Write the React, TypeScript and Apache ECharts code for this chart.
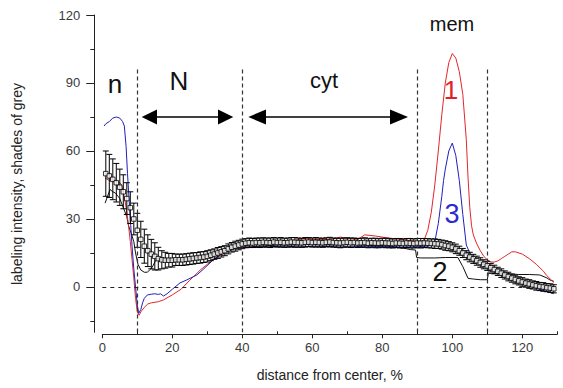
import React, { useEffect, useRef } from "react";
import * as echarts from "echarts";

// mean profile (x = 1..129 %), squares with error bars
const meanY = [
  50, 49, 47.5, 46, 44, 42, 39, 35, 30, 25, 21, 18, 16, 14.5, 13.5, 12.5, 12, 11.8, 11.8, 11.8,
  12, 12, 12, 12.2, 12.4, 12.6, 12.8, 13, 13.2, 13.5, 14, 14.5, 15, 15.5, 16, 16.8, 17.5, 18, 18.5, 19,
  19.3, 19.5, 19.4, 19.6, 19.5, 19.7, 19.6, 19.5, 19.8, 19.6, 19.7, 19.5, 19.6, 19.8, 19.7, 19.6, 19.5, 19.7, 19.8, 19.6,
  19.7, 19.6, 19.5, 19.7, 19.8, 19.6, 19.5, 19.4, 19.6, 19.7, 19.5, 19.6, 19.4, 19.5, 19.6, 19.3, 19.5, 19.4, 19.3, 19.5,
  19.4, 19.3, 19.2, 19.4, 19.3, 19.2, 19.4, 19.3, 19.2, 19.4,
  19.3, 19.4, 19.3, 19.2, 19.1, 19, 18.7, 18.3, 18, 17.5, 16.8, 16, 15, 14, 13.2, 12.4, 11.6, 10.8, 10, 9.3,
  8.5, 7.7, 6.9, 6.1, 5.3, 4.6, 3.9, 3.3, 2.7, 2.2, 1.7, 1.3, 0.9, 0.5, 0.2, 0, -0.3, -0.5, -0.8,
];
const errY = [
  10, 9.5, 9, 8.5, 8, 7.5, 7, 7, 7, 7.5, 8, 7.5, 7, 6.5, 6, 5, 4, 3.5, 3, 3,
  2.5, 2.5, 2.5, 2.5, 2.5, 2.5, 2.4, 2.5, 2.4, 2.5, 2.4, 2.3, 2.4, 2.3, 2.2, 2.2, 2.1, 2.2, 2.1, 2.1,
  2, 2.1, 2, 2, 2.1, 2, 2, 2.1, 2, 2, 2.1, 2, 2, 2, 2.1, 2, 2, 2.1, 2, 2,
  2.1, 2, 2, 2, 2.1, 2, 2, 2.1, 2, 2, 2.1, 2, 2, 2, 2.1, 2, 2, 2.1, 2, 2,
  2.1, 2, 2, 2, 2.1, 2, 2, 2.1, 2, 2,
  2.1, 2, 2, 2, 2.1, 2, 2, 2.1, 2, 2, 2.1, 2, 2, 2, 2.1, 2, 2, 2.1, 2, 2,
  1.9, 1.9, 1.8, 1.9, 1.8, 1.9, 1.8, 1.9, 1.8, 1.9, 1.8, 1.9, 1.8, 1.9, 1.8, 1.9, 1.8, 1.9, 1.8,
];

// curve 1 (red)
const redLine = [
  [0.8, 48], [2, 47], [3, 47.5], [4, 46.5], [5, 46], [5.5, 45], [6.5, 38], [7, 33], [7.5, 27], [8, 20],
  [8.5, 12], [9, 4], [9.5, -5], [10, -11], [10.5, -12.5], [11, -11], [12, -9], [13, -7.5], [14, -7], [16, -6.5],
  [17.5, -5.7], [20, -3.5], [22.5, -1], [25, 3], [28, 7.5], [30, 10], [32.5, 13], [35, 15], [37.5, 17], [40, 17.5],
  [42, 18.5], [45, 19.5], [48, 20], [50, 20.5], [55, 20.5], [58, 21.5], [60, 21], [65, 21], [68, 22], [70, 21.5],
  [73, 21], [75, 23], [78, 22.5], [80, 22], [85, 21], [88, 20.5], [90, 20], [91, 20], [92, 21], [93, 25],
  [94, 33], [95, 45], [96, 60], [97, 76], [98, 90], [99, 99], [100, 103], [101, 101], [102, 95], [103, 85],
  [104, 65], [104.5, 48], [105, 35], [105.5, 27], [106, 23], [107, 19], [108, 16], [109, 13.5], [110, 12], [111, 11],
  [112, 11], [113, 11.5], [114, 12.5], [115, 13.5], [116, 14.5], [117, 15.5], [118, 15.5], [120, 14.5], [122, 12.5], [124, 10],
  [126, 7], [127, 5], [128, 3.5], [129, 2],
];
// curve 3 (blue)
const blueLine = [
  [0.5, 71], [1, 72], [2, 73], [3, 74.5], [4, 75], [5, 74.5], [5.8, 73], [6.3, 71], [6.8, 62], [7.2, 50],
  [7.6, 40], [8, 30], [8.5, 18], [9, 8], [9.5, 0], [10, -8], [10.4, -11.6], [11, -10], [11.5, -7], [12, -5],
  [12.9, -3.5], [14, -3.2], [15, -3], [16, -3.3], [16.6, -3], [17.5, -4], [18.5, -3], [20, -1], [22.2, 1.8], [24, 3],
  [27, 5.3], [29, 8], [31.7, 12], [34, 14.5], [37.5, 17], [40, 17.5], [45, 17.5], [50, 17.8], [55, 17.5], [60, 18],
  [65, 17.8], [70, 17.5], [75, 18], [80, 17.8], [85, 17.6], [90, 17.8], [93, 18], [94, 18.5], [95, 20], [96, 28],
  [97, 40], [97.5, 47], [98, 52], [99, 60], [100, 63.5], [101, 58], [102, 47], [103, 32], [104, 18.5], [105, 15],
  [106, 13], [108, 11], [110, 8.5], [112, 7], [114, 5.5], [116, 4], [118, 3], [120, 1.5], [122, 0.5], [124, -0.5],
  [126, -1.5], [128, -2.5], [129, -3],
];
// curve 2 (black, thin)
const blackLine = [
  [0.8, 37], [1.5, 40], [2.2, 43], [3, 42], [3.7, 41.5], [4.5, 40], [5, 39], [6, 35], [7, 31], [7.5, 27],
  [8.4, 23], [9, 20], [9.5, 15], [10.2, 10], [11, 7.5], [12, 6.5], [12.9, 6.5], [13.5, 7.5], [14.2, 8.5], [15, 11],
  [15.6, 12.5], [17, 12], [20, 12], [25, 12.5], [30, 14], [35, 16], [38, 17], [40, 17.5], [45, 18], [50, 18.5],
  [55, 18.5], [60, 18.8], [65, 18.5], [70, 18.8], [75, 18.5], [80, 18.2], [85, 17.5], [88, 16.5], [89.5, 16.3], [89.8, 13],
  [91, 12.8], [95, 12.8], [98, 13], [101.6, 13], [103, 9], [104.5, 3.8], [106, 3.5], [108, 3.2], [110, 3.2], [110.3, 6],
  [113, 6], [116, 5.8], [119, 5.5], [122, 5.5], [125, 5.3], [127, 4], [128, 3], [129, 2.5],
];

const xTickLabels = [0, 20, 40, 60, 80, 100, 120];
const xMinorTicks = [10, 30, 50, 70, 90, 110, 130];
const yTickLabels = [0, 30, 60, 90, 120];
const yMinorTicks = [-15, 15, 45, 75, 105];
const regionBounds = [10, 40, 90, 110];

const FONT = "'Liberation Sans', Arial, sans-serif";

export default function App() {
  const ref = useRef<HTMLDivElement>(null);
  useEffect(() => {
    const chart = echarts.init(ref.current!, null, { renderer: "svg" });
    const meanData = meanY.map((v, i) => [i + 1, v, errY[i]]);
    const axisColor = "#222";
    const option: any = {
      animation: false,
      grid: { left: 102.3, right: 5.7, top: 15, bottom: 55.7 },
      xAxis: [
        {
          type: "value", min: 0, max: 130, position: "bottom", offset: 2,
          axisLine: { show: true, onZero: false, lineStyle: { color: axisColor, width: 1 } },
          axisTick: { show: true, customValues: xTickLabels, length: 4, lineStyle: { color: axisColor } },
          axisLabel: { customValues: xTickLabels, margin: 7, color: "#3a3a3a", fontSize: 13, fontFamily: FONT },
          splitLine: { show: false },
          name: "distance from center, %", nameLocation: "middle", nameGap: 34,
          nameTextStyle: { color: "#222", fontSize: 14, fontFamily: FONT },
        },
        {
          type: "value", min: 0, max: 130, position: "bottom", offset: 2,
          axisLine: { show: false, onZero: false },
          axisTick: { show: true, customValues: xMinorTicks, length: 3, inside: true, lineStyle: { color: axisColor } },
          axisLabel: { show: false },
          splitLine: { show: false },
        },
      ],
      yAxis: [
        {
          type: "value", min: -20, max: 120, position: "left", offset: 8,
          axisLine: { show: true, onZero: false, lineStyle: { color: axisColor, width: 1 } },
          axisTick: { show: true, customValues: yTickLabels, length: 8, lineStyle: { color: axisColor } },
          axisLabel: { customValues: yTickLabels, margin: 14, color: "#3a3a3a", fontSize: 13, fontFamily: FONT },
          splitLine: { show: false },
        },
        {
          type: "value", min: -20, max: 120, position: "left", offset: 8,
          axisLine: { show: false, onZero: false },
          axisTick: { show: true, customValues: yMinorTicks, length: 4, lineStyle: { color: axisColor } },
          axisLabel: { show: false },
          splitLine: { show: false },
        },
      ],
      graphic: [
        {
          type: "text", x: 17, y: 184, rotation: Math.PI / 2,
          style: { text: "labeling intensity, shades of grey", fontSize: 14, fontFamily: FONT, fill: "#222", align: "center", verticalAlign: "middle" },
        },
        { type: "text", x: 115, y: 84, style: { text: "n", fontSize: 26, fontFamily: FONT, fill: "#111", align: "center", verticalAlign: "middle" } },
        { type: "text", x: 179, y: 81, style: { text: "N", fontSize: 26, fontFamily: FONT, fill: "#111", align: "center", verticalAlign: "middle" } },
        { type: "text", x: 324, y: 80, style: { text: "cyt", fontSize: 22, fontFamily: FONT, fill: "#111", align: "center", verticalAlign: "middle" } },
        { type: "text", x: 452, y: 24, style: { text: "mem", fontSize: 20, fontFamily: FONT, fill: "#111", align: "center", verticalAlign: "middle" } },
        { type: "text", x: 451, y: 90, style: { text: "1", fontSize: 26, fontFamily: FONT, fill: "#e0202a", align: "center", verticalAlign: "middle" } },
        { type: "text", x: 452, y: 214, style: { text: "3", fontSize: 27, fontFamily: FONT, fill: "#2a2ad0", align: "center", verticalAlign: "middle" } },
        { type: "text", x: 440, y: 272, style: { text: "2", fontSize: 27, fontFamily: FONT, fill: "#111", align: "center", verticalAlign: "middle" } },
        // N arrow
        { type: "line", shape: { x1: 152, y1: 117, x2: 222, y2: 117 }, style: { stroke: "#000", lineWidth: 1.5 } },
        { type: "polygon", shape: { points: [[141.7, 117], [157, 109.5], [157, 124.5]] }, style: { fill: "#000" } },
        { type: "polygon", shape: { points: [[233.3, 117], [218, 109.5], [218, 124.5]] }, style: { fill: "#000" } },
        // cyt arrow
        { type: "line", shape: { x1: 258, y1: 117, x2: 398, y2: 117 }, style: { stroke: "#000", lineWidth: 1.5 } },
        { type: "polygon", shape: { points: [[248.3, 117], [266, 109.5], [266, 124.5]] }, style: { fill: "#000" } },
        { type: "polygon", shape: { points: [[408, 117], [390, 109.5], [390, 124.5]] }, style: { fill: "#000" } },
      ],
      series: [
        {
          type: "line", data: blackLine, showSymbol: false, symbol: "none",
          lineStyle: { color: "#111", width: 1 }, z: 2,
          markLine: {
            silent: true, symbol: "none", label: { show: false },
            lineStyle: { color: "#333", type: [4, 3], width: 1.2 },
            data: [
              ...regionBounds.map((b) => [{ coord: [b, 96] }, { coord: [b, -20] }]),
              { yAxis: 0, lineStyle: { color: "#222", type: [4, 4], width: 1.2 } },
            ],
          },
        },
        { type: "line", data: redLine, showSymbol: false, symbol: "none", lineStyle: { color: "#e3262b", width: 1 }, z: 3 },
        { type: "line", data: blueLine, showSymbol: false, symbol: "none", lineStyle: { color: "#2020b8", width: 1 }, z: 3 },
        {
          type: "custom", data: meanData, z: 4,
          renderItem: (params: any, api: any) => {
            const x = api.value(0), m = api.value(1), e = api.value(2);
            const top = api.coord([x, m + e]);
            const bot = api.coord([x, m - e]);
            const w = 3;
            const st = { stroke: "#000", lineWidth: 1 };
            return {
              type: "group",
              children: [
                { type: "line", shape: { x1: top[0], y1: top[1], x2: bot[0], y2: bot[1] }, style: st },
                { type: "line", shape: { x1: top[0] - w, y1: top[1], x2: top[0] + w, y2: top[1] }, style: st },
                { type: "line", shape: { x1: bot[0] - w, y1: bot[1], x2: bot[0] + w, y2: bot[1] }, style: st },
              ],
            };
          },
        },
        {
          type: "scatter", data: meanData.map((d) => [d[0], d[1]]), symbol: "rect", symbolSize: 4.5, z: 5,
          itemStyle: { color: "#fff", borderColor: "#000", borderWidth: 1 },
        },
      ],
    };
    chart.setOption(option);
    return () => chart.dispose();
  }, []);
  return <div ref={ref} style={{ position: "absolute", left: 0, top: 0, width: 563, height: 388, background: "#fff" }} />;
}
